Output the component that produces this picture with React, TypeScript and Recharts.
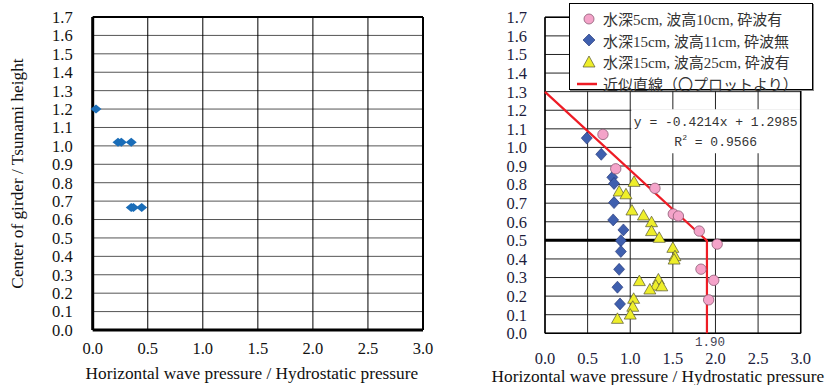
import {
  CartesianGrid,
  ReferenceArea,
  ReferenceLine,
  Scatter,
  ScatterChart,
  XAxis,
  YAxis,
} from "recharts"

const xTicks = [0, 0.5, 1, 1.5, 2, 2.5, 3]
const yTicks = [0, 0.1, 0.2, 0.3, 0.4, 0.5, 0.6, 0.7, 0.8, 0.9, 1, 1.1, 1.2, 1.3, 1.4, 1.5, 1.6, 1.7]

// left panel
const leftPoints = [
  { x: 0.03, y: 1.2 },
  { x: 0.23, y: 1.02 },
  { x: 0.26, y: 1.02 },
  { x: 0.35, y: 1.02 },
  { x: 0.35, y: 0.665 },
  { x: 0.37, y: 0.665 },
  { x: 0.445, y: 0.665 },
]

// right panel
const pinkPoints = [
  { x: 0.68, y: 1.07 },
  { x: 0.83, y: 0.885 },
  { x: 1.29, y: 0.78 },
  { x: 1.505, y: 0.642 },
  { x: 1.565, y: 0.631 },
  { x: 1.81, y: 0.55 },
  { x: 2.02, y: 0.48 },
  { x: 1.83, y: 0.345 },
  { x: 1.98, y: 0.285 },
  { x: 1.92, y: 0.18 },
]

const bluePoints = [
  { x: 0.49, y: 1.05 },
  { x: 0.66, y: 0.963 },
  { x: 0.79, y: 0.839 },
  { x: 0.81, y: 0.806 },
  { x: 0.81, y: 0.703 },
  { x: 0.8, y: 0.61 },
  { x: 0.92, y: 0.556 },
  { x: 0.89, y: 0.498 },
  { x: 0.89, y: 0.44 },
  { x: 0.87, y: 0.344 },
  { x: 0.85, y: 0.248 },
  { x: 0.88, y: 0.158 },
]

const yellowPoints = [
  { x: 1.045, y: 0.812 },
  { x: 0.87, y: 0.76 },
  { x: 0.95, y: 0.745 },
  { x: 1.02, y: 0.658 },
  { x: 1.155, y: 0.631 },
  { x: 1.25, y: 0.595 },
  { x: 1.25, y: 0.547 },
  { x: 1.34, y: 0.511 },
  { x: 1.5, y: 0.457 },
  { x: 1.525, y: 0.412 },
  { x: 1.515, y: 0.394 },
  { x: 1.107, y: 0.278 },
  { x: 1.33, y: 0.287 },
  { x: 1.3, y: 0.254 },
  { x: 1.37, y: 0.25 },
  { x: 1.23, y: 0.233 },
  { x: 1.04, y: 0.183 },
  { x: 1.03, y: 0.14 },
  { x: 1.0, y: 0.098 },
  { x: 0.85, y: 0.075 },
]

const fitLine = [
  { x: 0, y: 1.2985 },
  { x: 1.9, y: 0.4979 },
  { x: 1.9, y: 0 },
]

const legendItems = [
  { label: "水深5cm, 波高10cm, 砕波有", icon: "circle" },
  { label: "水深15cm, 波高11cm, 砕波無", icon: "diamond" },
  { label: "水深15cm, 波高25cm, 砕波有", icon: "triangle" },
  { label: "近似直線（〇プロットより）", icon: "line" },
]

const xLabel = "Horizontal wave pressure / Hydrostatic pressure"
const yLabel = "Center of girder / Tsunami height"
const eqLine1 = "y = -0.4214x + 1.2985"
const eqR2 = "0.9566"

const serif = "'Liberation Serif', 'Times New Roman', serif"
const mono = "'Liberation Mono', 'Courier New', monospace"
const fmt = (v: number) => v.toFixed(1)

const PINK = "#F4A3C9"
const BLUE = "#3F5FAE"
const YELLOW = "#EEEE2A"
const RED = "#EE1C25"

const LeftDiamond = (p: any) => (
  <path d={`M${p.cx},${p.cy - 4.5}L${p.cx + 5.5},${p.cy}L${p.cx},${p.cy + 4.5}L${p.cx - 5.5},${p.cy}Z`} fill="#1A6DB8" />
)
const PinkCircle = (p: any) => <circle cx={p.cx} cy={p.cy} r={5.2} fill={PINK} stroke="#8C5A74" strokeWidth={0.8} />
const BlueDiamond = (p: any) => (
  <path
    d={`M${p.cx},${p.cy - 6}L${p.cx + 5.5},${p.cy}L${p.cx},${p.cy + 6}L${p.cx - 5.5},${p.cy}Z`}
    fill={BLUE}
    stroke="#1F2F6E"
    strokeWidth={0.6}
  />
)
const YellowTriangle = (p: any) => (
  <path
    d={`M${p.cx},${p.cy - 6.5}L${p.cx + 6},${p.cy + 4}L${p.cx - 6},${p.cy + 4}Z`}
    fill={YELLOW}
    stroke="#555533"
    strokeWidth={0.7}
  />
)

function LegendIcon({ type }: { type: string }) {
  return (
    <svg width={16} height={14} style={{ display: "block", overflow: "visible" }}>
      {type === "circle" && <circle cx={8} cy={7} r={5} fill={PINK} stroke="#8C5A74" strokeWidth={0.8} />}
      {type === "diamond" && <path d="M8,1L14,7L8,13L2,7Z" fill={BLUE} stroke="#1F2F6E" strokeWidth={0.6} />}
      {type === "triangle" && <path d="M8,1L14,12L2,12Z" fill={YELLOW} stroke="#555533" strokeWidth={0.7} />}
      {type === "line" && <line x1={-4} y1={7} x2={16} y2={7} stroke={RED} strokeWidth={2.5} />}
    </svg>
  )
}

function LegendBox() {
  return (
    <div
      style={{
        position: "absolute",
        left: 569,
        top: 3,
        background: "#fff",
        border: "1px solid #000",
        boxShadow: "1px 1px 0 #888",
        width: 244,
        height: 87,
        boxSizing: "border-box",
        padding: "4px 0 0 11px",
        fontFamily: "'Liberation Serif', 'Noto Sans CJK JP', serif",
        fontSize: 15,
        color: "#333",
      }}
    >
      {legendItems.map((it) => (
        <div key={it.label} style={{ display: "flex", alignItems: "center", height: 21.6, whiteSpace: "nowrap" }}>
          <LegendIcon type={it.icon} />
          <span style={{ marginLeft: 6 }}>{it.label}</span>
        </div>
      ))}
    </div>
  )
}

function LeftChart() {
  return (
    <ScatterChart width={440} height={385} margin={{ top: 17, right: 17, bottom: 0, left: 0 }}>
      <CartesianGrid vertical={false} stroke="#555" strokeWidth={1} />
      <CartesianGrid horizontal={false} stroke="#000" strokeWidth={1} />
      <XAxis
        type="number"
        dataKey="x"
        domain={[0, 3]}
        ticks={xTicks}
        tickFormatter={fmt}
        height={55}
        tickSize={0}
        tickMargin={12}
        axisLine={{ stroke: "#000", strokeWidth: 3 }}
        tick={{ fill: "#111", fontSize: 16.5, fontFamily: serif }}
        label={{ value: xLabel, position: "insideBottom", offset: 6, dx: -6, fill: "#111", fontSize: 17.3, fontFamily: serif }}
      />
      <YAxis
        type="number"
        dataKey="y"
        domain={[0, 1.7]}
        ticks={yTicks}
        tickFormatter={fmt}
        width={92.7}
        tickSize={0}
        tickMargin={20}
        interval={0}
        axisLine={{ stroke: "#000", strokeWidth: 3 }}
        tick={{ fill: "#111", fontSize: 16.5, fontFamily: serif }}
        label={{
          value: yLabel,
          angle: -90,
          position: "insideLeft",
          offset: 17,
          fill: "#111",
          fontSize: 17.3,
          fontFamily: serif,
          style: { textAnchor: "middle" },
        }}
      />
      <ReferenceLine y={1.7} stroke="#000" strokeWidth={2} />
      <ReferenceLine x={3} stroke="#000" strokeWidth={2} />
      <Scatter data={leftPoints} shape={LeftDiamond} isAnimationActive={false} />
    </ScatterChart>
  )
}

function EquationLabel(props: any) {
  const vb = props.viewBox
  const cx = vb.x + vb.width / 2
  return (
    <g>
      <text x={cx} y={vb.y + 17} textAnchor="middle" fontFamily={mono} fontSize={13} fill="#333">
        {eqLine1}
      </text>
      <text x={cx} y={vb.y + 37} textAnchor="middle" fontFamily={mono} fontSize={13} fill="#333">
        R<tspan fontSize={8} dy={-6}>2</tspan>
        <tspan dy={6}>{` = ${eqR2}`}</tspan>
      </text>
    </g>
  )
}

function RightChart() {
  return (
    <ScatterChart width={389} height={385} margin={{ top: 17.3, right: 28.3, bottom: 0, left: 0 }}>
      <CartesianGrid stroke="#222" strokeWidth={1} />
      <XAxis
        type="number"
        dataKey="x"
        domain={[0, 3]}
        ticks={xTicks}
        tickFormatter={fmt}
        height={51.7}
        tickSize={0}
        tickMargin={19}
        axisLine={{ stroke: "#000", strokeWidth: 1.5 }}
        tick={{ fill: "#1c1c3c", fontSize: 16.5, fontFamily: serif }}
        label={{ value: xLabel, position: "insideBottom", offset: 3, dx: -15, fill: "#111", fontSize: 17.3, fontFamily: serif }}
      />
      <YAxis
        type="number"
        dataKey="y"
        domain={[0, 1.7]}
        ticks={yTicks}
        tickFormatter={fmt}
        width={105}
        tickSize={0}
        tickMargin={18}
        interval={0}
        axisLine={{ stroke: "#000", strokeWidth: 1.5 }}
        tick={{ fill: "#1c1c3c", fontSize: 16.5, fontFamily: serif }}
      />
      <ReferenceLine y={1.7} stroke="#000" strokeWidth={1.5} />
      <ReferenceLine x={3} stroke="#000" strokeWidth={1.5} />
      <ReferenceArea x1={1.012} x2={2.995} y1={0.968} y2={1.205} fill="#fff" fillOpacity={1} stroke="none" label={<EquationLabel />} />
      <ReferenceLine y={0.5} stroke="#000" strokeWidth={3} />
      <ReferenceLine
        x={1.9}
        stroke="none"
        label={{ value: "1.90", position: "bottom", offset: 4, dx: 3, fill: "#445", fontSize: 12.5, fontFamily: mono }}
      />
      <Scatter data={fitLine} line={{ stroke: RED, strokeWidth: 2.2 }} shape={() => <g />} isAnimationActive={false} />
      <Scatter data={bluePoints} shape={BlueDiamond} isAnimationActive={false} />
      <Scatter data={yellowPoints} shape={YellowTriangle} isAnimationActive={false} />
      <Scatter data={pinkPoints} shape={PinkCircle} isAnimationActive={false} />
    </ScatterChart>
  )
}

export default function App() {
  return (
    <div style={{ position: "absolute", left: 0, top: 0, width: 829, height: 385, background: "#fff" }}>
      <div style={{ position: "absolute", left: 0, top: 0 }}>
        <LeftChart />
      </div>
      <div style={{ position: "absolute", left: 440, top: 0 }}>
        <RightChart />
      </div>
      <LegendBox />
    </div>
  )
}
